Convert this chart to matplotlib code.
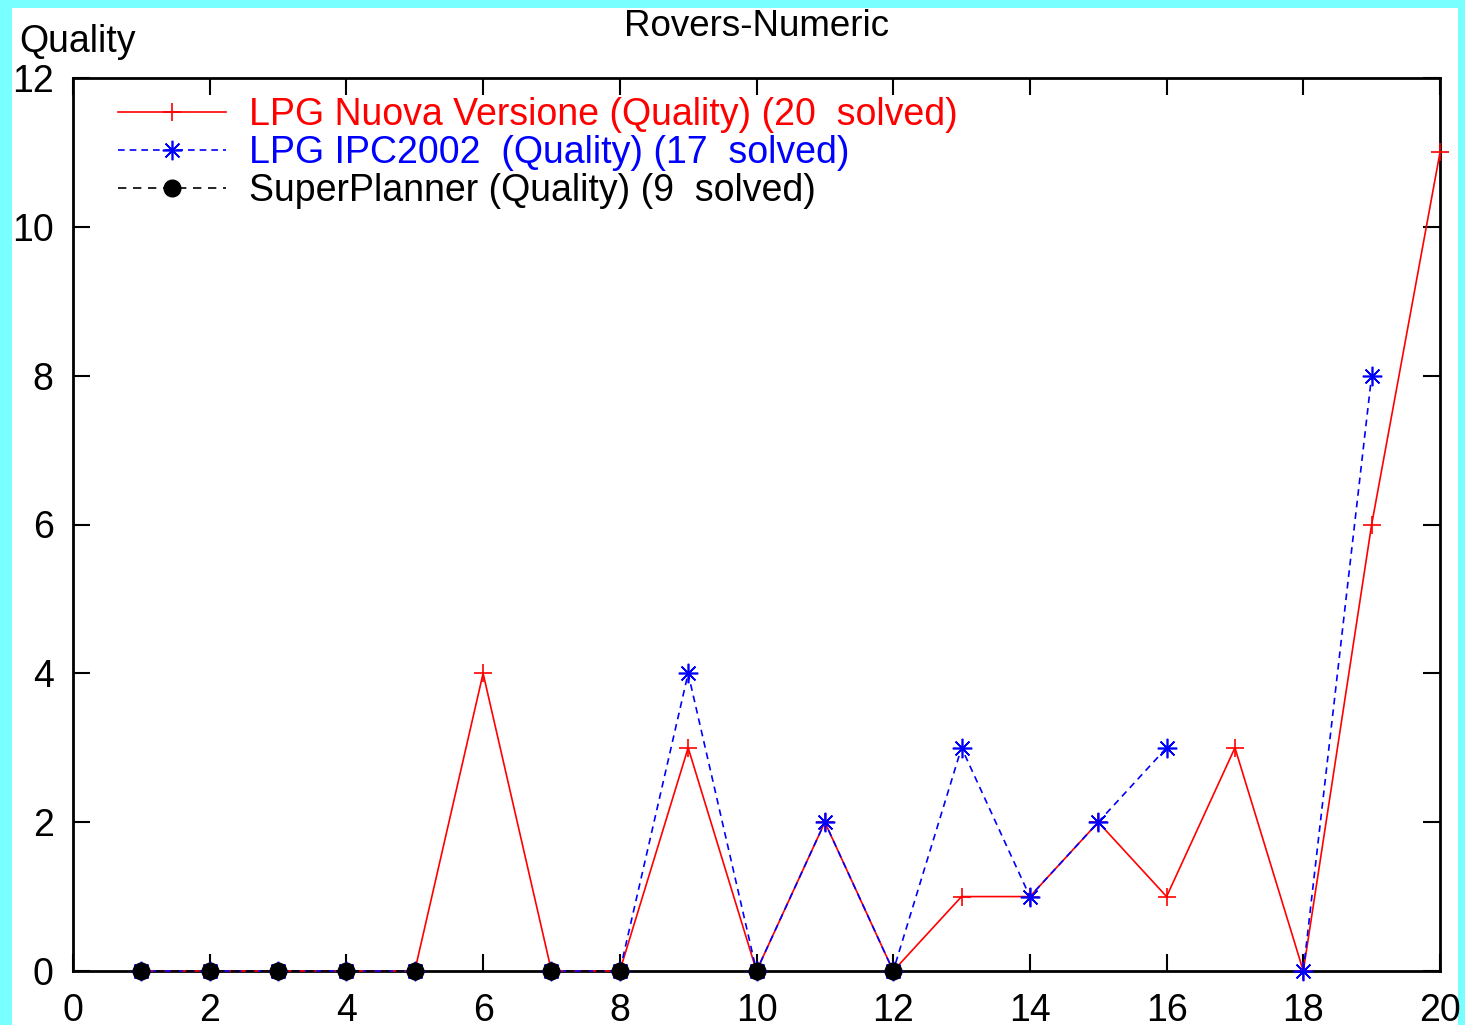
import numpy as np
import matplotlib
matplotlib.use("Agg")
import matplotlib.pyplot as plt
from matplotlib.patches import Rectangle

plt.rcParams['font.family'] = ['Liberation Sans', 'DejaVu Sans']

x = np.arange(1, 21)
nan = np.nan
lpg_nuova = [0, 0, 0, 0, 0, 4, 0, 0, 3, 0, 2, 0, 1, 1, 2, 1, 3, 0, 6, 11]
lpg_ipc = [0, 0, 0, 0, 0, nan, 0, 0, 4, 0, 2, 0, 3, 1, 2, 3, nan, 0, 8, nan]
super_planner = [0, 0, 0, 0, 0, nan, 0, 0, nan, 0, nan, 0, nan, nan, nan, nan, nan, nan, nan, nan]

labels = ["LPG Nuova Versione (Quality) (20  solved)",
          "LPG IPC2002  (Quality) (17  solved)",
          "SuperPlanner (Quality) (9  solved)"]
xticks = list(range(0, 21, 2))
yticks = list(range(0, 13, 2))

W, H = 1465, 1025
fig = plt.figure(figsize=(W / 100, H / 100), dpi=100)
fig.patch.set_facecolor('#78FFFF')
bg = Rectangle((12 / W, 0), (1458 - 12) / W, 1 - 8 / H,
               transform=fig.transFigure, facecolor='white',
               edgecolor='none', zorder=-10)
fig.add_artist(bg)

l, r, t, b = 73, 1440, 78, 971
ax = fig.add_axes([l / W, 1 - b / H, (r - l) / W, (b - t) / H])
ax.set_zorder(1)
ax.set_facecolor('white')

fs = 27
ax.plot(x, lpg_nuova, color='#FF0000', lw=1.2, marker='+', ms=13, mew=1.2,
        clip_on=False, zorder=3, label=labels[0])
ax.plot(x, lpg_ipc, color='#0000FF', lw=1.2, ls=(0, (4, 3)), marker=(8, 2, 0),
        ms=14, mew=1.2, clip_on=False, zorder=4, label=labels[1])
ax.plot(x, super_planner, color='black', lw=1.2, ls=(0, (5, 4)), marker='o',
        ms=12, clip_on=False, zorder=5, label=labels[2])

ax.set_xlim(0, 20)
ax.set_ylim(0, 12)
ax.set_xticks(xticks)
ax.set_yticks(yticks)
ax.tick_params(direction='in', length=12, width=1.5, top=True, right=True,
               labelsize=fs, pad=16)
ax.tick_params(axis='y', pad=14)
for s in ax.spines.values():
    s.set_linewidth(2)

ax.set_title("Rovers-Numeric", fontsize=26.5, pad=30)
fig.text(19 / W, 1 - 42 / H, "Quality", fontsize=fs, ha='left', va='center')

leg = ax.legend(loc='upper left', bbox_to_anchor=(0.022, 0.995), frameon=False,
                fontsize=fs, handlelength=2.88, handletextpad=0.6,
                labelspacing=0.05, numpoints=1, borderaxespad=0)
for txt, c in zip(leg.get_texts(), ['#FF0000', '#0000FF', 'black']):
    txt.set_color(c)

fig.savefig("out.png", dpi=100, facecolor=fig.get_facecolor())
